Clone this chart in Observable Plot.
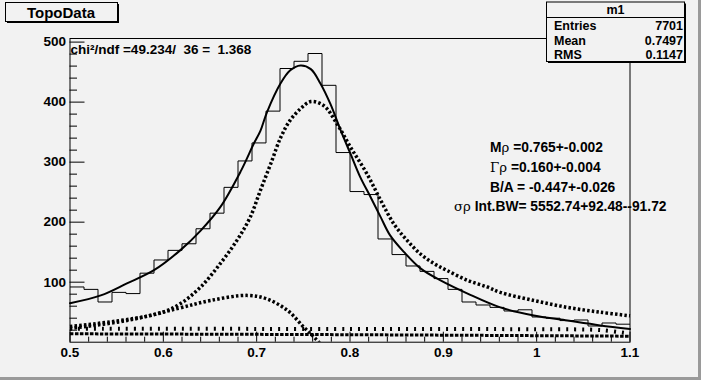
<!DOCTYPE html>
<html><head><meta charset="utf-8">
<script src="https://cdn.jsdelivr.net/npm/d3@7"></script>
<script src="https://cdn.jsdelivr.net/npm/@observablehq/plot@0.6"></script>
<style>
html,body{margin:0;padding:0;background:#f2f2f2;}
#chart{width:701px;height:380px;position:relative;overflow:hidden;background:#f2f2f2;}
</style></head><body><div id="chart"></div>
<script>
// ---- data ----
const binStart = 0.5, binWidth = 0.015;
const counts = [92, 88, 67, 83, 81, 115, 137, 153, 164, 189,
                215, 258, 302, 332, 385, 456, 468, 481, 428, 316,
                251, 246, 172, 146, 127, 118, 106, 88, 67, 62,
                58, 52, 54, 42, 40, 36, 37, 27, 32, 30];

const totalX = [0.500, 0.533, 0.561, 0.590, 0.618, 0.640, 0.661, 0.683, 0.697, 0.704, 0.711, 0.7255, 0.736, 0.747, 0.758, 0.768, 0.779, 0.790, 0.8005, 0.811, 0.822, 0.833, 0.843, 0.858, 0.8755, 0.897, 0.926, 0.961, 0.997, 1.033, 1.068, 1.100];
const totalY = [65, 78, 98, 120, 153, 186, 225, 285, 331, 352, 383, 431, 453, 461, 455, 432, 397, 353, 314, 275, 242, 208, 178, 150, 123, 103, 81, 58, 44.5, 36, 28, 22];

const bwX = [0.500, 0.593, 0.618, 0.640, 0.661, 0.679, 0.693, 0.704, 0.715, 0.726, 0.736, 0.747, 0.758, 0.772, 0.786, 0.8005, 0.818, 0.833, 0.847, 0.861, 0.8755, 0.890, 0.904, 0.926, 0.947, 0.961, 0.997, 1.033, 1.068, 1.100];
const bwY = [26, 47, 64, 92, 131, 170, 208, 253, 297, 342, 370, 389, 401, 394, 364, 325, 281, 236, 197, 170, 147, 131, 119.5, 103, 92, 83, 69.5, 58, 50, 44];

const intX = [0.500, 0.561, 0.615, 0.6505, 0.690, 0.711, 0.733, 0.7505, 0.763, 0.775];
const intY = [23, 36, 56, 69.5, 78, 72, 53, 25, 6, -15];

const bkgX = [0.500, 0.800, 1.000, 1.070, 1.100];
const bkgY = [22.5, 22, 21.5, 20, 14];

const constX = [0.500, 0.800, 1.100];
const constY = [14, 12.5, 10];

const yTicks = [100, 200, 300, 400, 500];
const yMinor = [20, 40, 60, 80, 120, 140, 160, 180, 220, 240, 260, 280, 320, 340, 360, 380, 420, 440, 460, 480];
const xTicks = [0.5, 0.6, 0.7, 0.8, 0.9, 1.0, 1.1];
const xMinor = [0.52, 0.54, 0.56, 0.58, 0.62, 0.64, 0.66, 0.68, 0.72, 0.74, 0.76, 0.78, 0.82, 0.84, 0.86, 0.88, 0.92, 0.94, 0.96, 0.98, 1.02, 1.04, 1.06, 1.08];

const title = "TopoData";
const statsName = "m1";
const statsLabels = ["Entries", "Mean", "RMS"];
const statsValues = ["7701", "0.7497", "0.1147"];
const chiText = "chi\u00b2/ndf =49.234/  36 =  1.368";
const fitLines = [
  [["M", "b"], ["\u03c1", "g"], [" =0.765+-0.002", "b"]],
  [["\u0393\u03c1", "g"], [" =0.160+-0.004", "b"]],
  [["B/A = -0.447+-0.026", "b"]],
  [["\u03c3\u03c1", "g"], [" Int.BW= 5552.74+92.48--91.72", "b"]]
];

// ---- build ----
const FONT = "'Liberation Sans', Arial, Helvetica, sans-serif";
const histPts = counts.map((c, i) => ({x: binStart + i * binWidth, y: c}));
histPts.push({x: binStart + counts.length * binWidth, y: counts[counts.length - 1]});
const zip = (xs, ys) => xs.map((x, i) => ({x, y: ys[i]}));
const dotted = {curve: "catmull-rom", stroke: "#000", strokeLinecap: "butt", strokeLinejoin: "miter"};

const plot = Plot.plot({
  width: 701, height: 380,
  marginLeft: 69.5, marginRight: 71.5, marginTop: 38, marginBottom: 38.3,
  style: {background: "transparent", fontFamily: FONT, fontWeight: "bold", fontSize: "13.5px", color: "#000", overflow: "visible"},
  x: {domain: [0.5, 1.1], label: null},
  y: {domain: [0, 506], label: null},
  marks: [
    Plot.line(histPts, {x: "x", y: "y", curve: "step-after", stroke: "#000", strokeWidth: 1, strokeLinecap: "butt", strokeLinejoin: "miter"}),
    Plot.line(zip(constX, constY), {x: "x", y: "y", ...dotted, strokeWidth: 3, strokeDasharray: "3.5,1.5"}),
    Plot.line(zip(bkgX, bkgY), {x: "x", y: "y", ...dotted, strokeWidth: 4, strokeDasharray: "2,6"}),
    Plot.line(zip(intX, intY), {x: "x", y: "y", ...dotted, strokeWidth: 3.5, strokeDasharray: "2.5,2.2", clip: true}),
    Plot.line(zip(bwX, bwY), {x: "x", y: "y", ...dotted, strokeWidth: 3.5, strokeDasharray: "2.5,2.2"}),
    Plot.line(zip(totalX, totalY), {x: "x", y: "y", curve: "catmull-rom", stroke: "#000", strokeWidth: 2}),
    Plot.frame({stroke: "#000", strokeWidth: 1}),
    Plot.axisY({ticks: yTicks, tickSize: 0, tickPadding: 4, tickFormat: d => String(d), fontSize: 13.5, fontWeight: "bold", label: null}),
    Plot.axisY({ticks: yTicks, tickSize: -15, tickFormat: () => "", label: null}),
    Plot.axisY({ticks: yMinor, tickSize: -7.5, tickFormat: () => "", label: null}),
    Plot.axisX({ticks: xTicks, tickSize: 0, tickPadding: 5, tickFormat: d => String(d), fontSize: 13.5, fontWeight: "bold", label: null}),
    Plot.axisX({ticks: xTicks, tickSize: -10, tickFormat: () => "", label: null}),
    Plot.axisX({ticks: xMinor, tickSize: -5, tickFormat: () => "", label: null})
  ]
});
document.getElementById("chart").appendChild(plot);

const svg = d3.select(plot);
// canvas bevel
svg.append("rect").attr("x", 0).attr("y", 377).attr("width", 701).attr("height", 3).attr("fill", "#9a9a9a");
svg.append("rect").attr("x", 698).attr("y", 0).attr("width", 3).attr("height", 380).attr("fill", "#9a9a9a");

function box(x, y, w, h) {
  svg.append("rect").attr("x", x + 2).attr("y", y + 2).attr("width", w).attr("height", h).attr("fill", "#000");
  svg.append("rect").attr("x", x + 0.5).attr("y", y + 0.5).attr("width", w).attr("height", h)
    .attr("fill", "#f2f2f2").attr("stroke", "#000").attr("stroke-width", 1);
}
function txt(x, y, s, size, anchor) {
  return svg.append("text").attr("x", x).attr("y", y).attr("text-anchor", anchor || "start")
    .attr("dominant-baseline", "central").attr("font-family", FONT).attr("font-weight", "bold")
    .attr("font-size", size).attr("fill", "#000").text(s);
}
// title box
box(5, 2, 112, 19);
txt(61, 12, title, 15, "middle");

// stats box
box(546, 1.5, 138, 59.5);
svg.append("line").attr("x1", 546.5).attr("x2", 684.5).attr("y1", 17.5).attr("y2", 17.5).attr("stroke", "#000");
txt(615.5, 10, statsName, 12.5, "middle");
const rowY = [25.5, 40.5, 55];
statsLabels.forEach((l, i) => {
  txt(554, rowY[i], l, 12.5, "start");
  txt(683, rowY[i], statsValues[i], 12.5, "end");
});

// chi2 text
txt(70.5, 49, chiText, 13.5, "start");

// fit parameter texts
const fitX = [490, 490, 490, 454];
const fitY = [147, 167, 186.5, 206];
fitLines.forEach((parts, i) => {
  const t = svg.append("text").attr("x", fitX[i]).attr("y", fitY[i]).attr("text-anchor", "start")
    .attr("dominant-baseline", "central").attr("font-size", 13.8).attr("fill", "#000");
  parts.forEach(([s, kind]) => {
    t.append("tspan").text(s)
      .attr("font-family", kind === "g" ? "'DejaVu Serif', 'Liberation Serif', serif" : FONT)
      .attr("font-weight", kind === "g" ? "normal" : "bold")
      .attr("font-size", kind === "g" ? 13.3 : 13.8);
  });
});
</script></body></html>
